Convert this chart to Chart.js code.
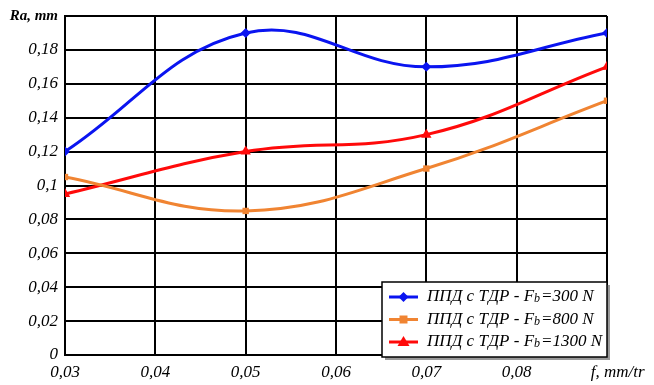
<!DOCTYPE html>
<html>
<head>
<meta charset="utf-8">
<script src="https://cdn.jsdelivr.net/npm/chart.js@4.4.1/dist/chart.umd.min.js"></script>
<style>
  html, body { margin: 0; padding: 0; background: #fff; }
  #wrap { width: 654px; height: 385px; }
</style>
</head>
<body>
<div id="wrap"><canvas id="raChart" width="654" height="385"></canvas></div>
<script>
const FEEDS = [0.03, 0.05, 0.07, 0.09];
const RA_300 = [0.12, 0.19, 0.17, 0.19];
const RA_800 = [0.105, 0.085, 0.11, 0.15];
const RA_1300 = [0.095, 0.12, 0.13, 0.17];

const SERIES_LABELS = [
  "ППД с ТДР - Fb=300 N",
  "ППД с ТДР - Fb=800 N",
  "ППД с ТДР - Fb=1300 N",
];

// axis titles sit in place of the last tick labels, as in the source chart
const X_TITLE = "     f, mm/tr";
const Y_TITLE = "Ra, mm";

const FONT = "'Liberation Serif', 'Times New Roman', serif";

function points(values) {
  return FEEDS.map((x, i) => ({ x: x, y: values[i] }));
}

function fmt(v) {
  return String(Math.round(v * 100) / 100).replace(".", ",");
}

// legend box in the lower right corner, "b" in Fb drawn as subscript
const boxLegend = {
  id: "boxLegend",
  afterDraw(chart) {
    const ctx = chart.ctx;
    const area = chart.chartArea;
    const w = 225, h = 75;
    const x0 = area.right - w, y0 = area.bottom - h + 2;

    ctx.save();
    ctx.fillStyle = "#999";
    ctx.fillRect(x0 + 3, y0 + 3, w, h);
    ctx.fillStyle = "#fff";
    ctx.fillRect(x0, y0, w, h);
    ctx.strokeStyle = "#000";
    ctx.lineWidth = 1.5;
    ctx.strokeRect(x0, y0, w, h);

    chart.data.datasets.forEach((ds, i) => {
      const cy = y0 + 15 + i * 22.5;
      ctx.strokeStyle = ds.borderColor;
      ctx.lineWidth = 3;
      ctx.beginPath();
      ctx.moveTo(x0 + 7, cy);
      ctx.lineTo(x0 + 36, cy);
      ctx.stroke();

      ctx.fillStyle = ds.borderColor;
      const mx = x0 + 21.5;
      ctx.beginPath();
      if (ds.pointStyle === "rectRot") {
        ctx.moveTo(mx, cy - 5); ctx.lineTo(mx + 5, cy); ctx.lineTo(mx, cy + 5); ctx.lineTo(mx - 5, cy);
      } else if (ds.pointStyle === "rect") {
        ctx.rect(mx - 4, cy - 4, 8, 8);
      } else {
        ctx.moveTo(mx, cy - 6); ctx.lineTo(mx + 6, cy + 4); ctx.lineTo(mx - 6, cy + 4);
      }
      ctx.closePath();
      ctx.fill();

      const parts = ds.label.split("Fb");
      let tx = x0 + 45;
      ctx.fillStyle = "#000";
      ctx.textBaseline = "middle";
      ctx.font = "italic 17px " + FONT;
      ctx.fillText(parts[0] + "F", tx, cy);
      tx += ctx.measureText(parts[0] + "F").width;
      ctx.font = "italic 12px " + FONT;
      ctx.fillText("b", tx, cy + 2);
      tx += ctx.measureText("b").width + 1;
      ctx.font = "italic 17px " + FONT;
      ctx.fillText(parts[1], tx, cy);
    });
    ctx.restore();
  },
};

new Chart(document.getElementById("raChart"), {
  type: "line",
  data: {
    datasets: [
      {
        label: SERIES_LABELS[0],
        data: points(RA_300),
        borderColor: "#0a14f0",
        backgroundColor: "#0a14f0",
        pointStyle: "rectRot",
        pointRadius: 5,
      },
      {
        label: SERIES_LABELS[1],
        data: points(RA_800),
        borderColor: "#f08432",
        backgroundColor: "#f08432",
        pointStyle: "rect",
        pointRadius: 4.5,
      },
      {
        label: SERIES_LABELS[2],
        data: points(RA_1300),
        borderColor: "#ff0a0a",
        backgroundColor: "#ff0a0a",
        pointStyle: "triangle",
        pointRadius: 6,
      },
    ],
  },
  options: {
    responsive: false,
    animation: false,
    elements: {
      line: { borderWidth: 3, tension: 0.4, cubicInterpolationMode: "default" },
      point: { borderWidth: 0 },
    },
    layout: { padding: { top: 13, right: 47, left: 0, bottom: 0 } },
    plugins: {
      legend: { display: false },
      tooltip: { enabled: false },
    },
    scales: {
      x: {
        type: "linear",
        min: 0.03,
        max: 0.09,
        afterBuildTicks: (s) => {
          s.ticks = [0.03, 0.04, 0.05, 0.06, 0.07, 0.08, 0.09].map((v) => ({ value: v }));
        },
        afterFit: (s) => { s.height = 30; },
        grid: { color: "#000", lineWidth: 2, drawTicks: false },
        border: { color: "#000", width: 2 },
        ticks: {
          color: "#000",
          padding: 7,
          maxRotation: 0,
          autoSkip: false,
          font: { family: FONT, size: 17, style: "italic" },
          callback: (v) => (Math.abs(v - 0.09) < 1e-9 ? X_TITLE : fmt(v)),
        },
      },
      y: {
        min: 0,
        max: 0.2,
        afterBuildTicks: (s) => {
          s.ticks = [0, 0.02, 0.04, 0.06, 0.08, 0.1, 0.12, 0.14, 0.16, 0.18, 0.2].map((v) => ({ value: v }));
        },
        afterFit: (s) => { s.width = 65; },
        grid: { color: "#000", lineWidth: 2, drawTicks: false },
        border: { color: "#000", width: 2 },
        ticks: {
          color: "#000",
          padding: 7,
          font: (c) => ({
            family: FONT,
            size: c.tick && Math.abs(c.tick.value - 0.2) < 1e-9 ? 15 : 17,
            style: "italic",
            weight: c.tick && Math.abs(c.tick.value - 0.2) < 1e-9 ? "bold" : "normal",
          }),
          callback: (v) => (Math.abs(v - 0.2) < 1e-9 ? Y_TITLE : fmt(v)),
        },
      },
    },
  },
  plugins: [boxLegend],
});
</script>
</body>
</html>
